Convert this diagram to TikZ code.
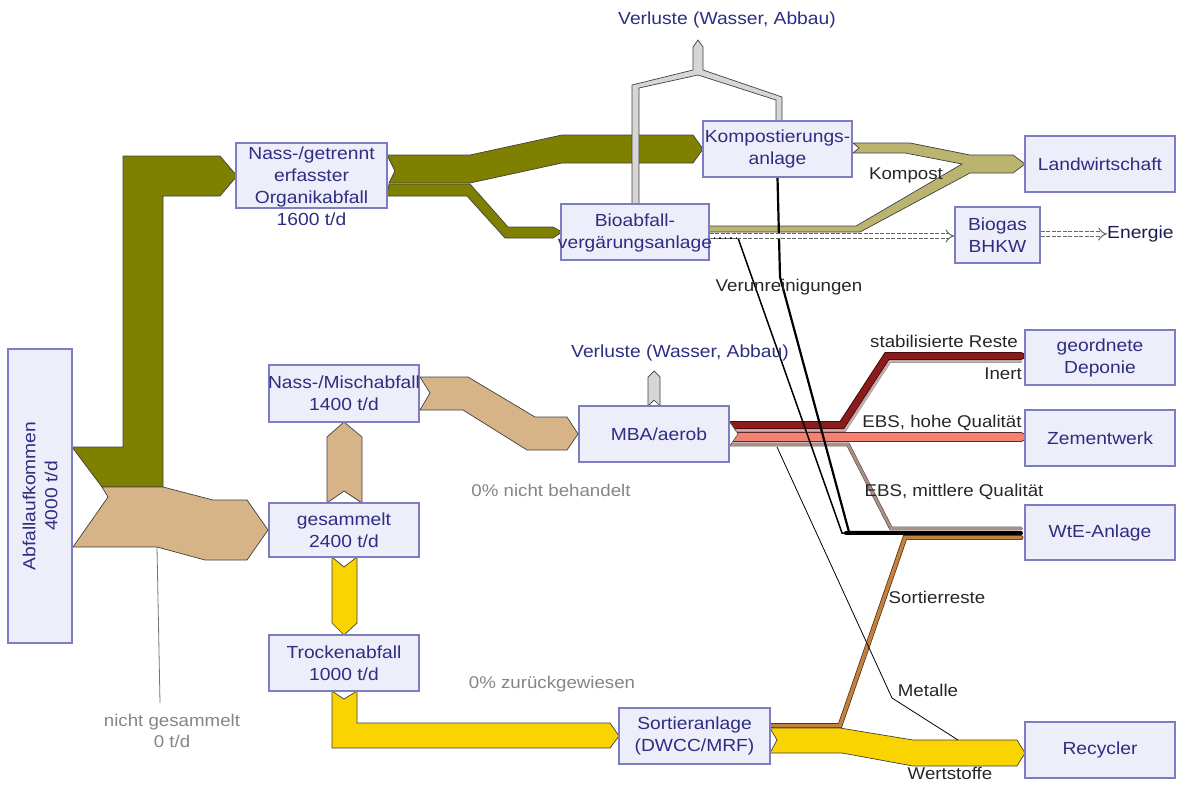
\documentclass[tikz,border=0pt]{standalone}
\usepackage{fontspec}
\setmainfont{Liberation Sans}[FakeStretch=1.1]
\usetikzlibrary{arrows.meta}
\pgfdeclarelayer{bg}
\pgfsetlayers{bg,main}
\definecolor{navy}{RGB}{45,45,130}
\definecolor{boxline}{RGB}{125,125,195}
\definecolor{boxfill}{RGB}{238,238,250}
\definecolor{oliveC}{RGB}{128,128,0}
\definecolor{tanC}{RGB}{214,180,136}
\definecolor{goldC}{RGB}{250,212,0}
\definecolor{khakiC}{RGB}{186,180,112}
\definecolor{lossC}{RGB}{214,214,214}
\definecolor{redC}{RGB}{140,28,28}
\definecolor{redD}{RGB}{70,10,10}
\definecolor{salmonC}{RGB}{243,130,115}
\definecolor{salmonD}{RGB}{95,40,40}
\definecolor{ebsC}{RGB}{170,145,135}
\definecolor{ebsD}{RGB}{90,70,60}
\definecolor{sortC}{RGB}{196,128,62}
\definecolor{sortD}{RGB}{75,42,15}
\definecolor{inertC}{RGB}{210,175,175}
\begin{document}
\begin{tikzpicture}[x=1pt,y=-1pt,
  box/.style={draw=boxline, fill=boxfill, line width=1.4pt, inner sep=0pt},
  lbl/.style={font=\fontsize{17.5}{22}\selectfont, text=navy, align=center, inner sep=0pt},
  flab/.style={font=\fontsize{17}{21}\selectfont, text=black!85, align=center, inner sep=0pt},
  glab/.style={flab, text=black!48},
  band/.style={draw=black!75, line width=0.7pt, line join=miter},
  strip/.style={line cap=round, line join=miter},
  dblarrow/.style={draw=black!60, double=white, double distance=3.6pt, line width=1pt, dash pattern=on 4pt off 1.5pt, -{Implies}}]
\useasboundingbox (0,0) rectangle (1201,784);

% ---------- boxes ----------
\node[box,minimum width=64pt,minimum height=294pt,label={[lbl,rotate=90]center:{Abfallaufkommen\\4000 t/d}}] (abf) at (40,496) {};
\node[box,minimum width=151pt,minimum height=65pt,label={[lbl,yshift=-11pt]center:{Nass-/getrennt\\erfasster\\Organikabfall\\1600 t/d}}] (nge) at (311.5,175.5) {};
\node[box,minimum width=150pt,minimum height=57pt,label={[lbl]center:{Nass-/Mischabfall\\1400 t/d}}] (nmi) at (344,393.5) {};
\node[box,minimum width=150pt,minimum height=54pt,label={[lbl]center:{gesammelt\\2400 t/d}}] (ges) at (344,530) {};
\node[box,minimum width=150pt,minimum height=56pt,label={[lbl]center:{Trockenabfall\\1000 t/d}}] (tro) at (344,663) {};
\node[box,minimum width=149pt,minimum height=56pt,label={[lbl]center:{Kompostierungs-\\anlage}}] (kom) at (777.5,149) {};
\node[box,minimum width=148pt,minimum height=56pt,label={[lbl,yshift=-1pt]center:{Bioabfall-\\vergärungsanlage}}] (bio) at (635,232) {};
\node[box,minimum width=150pt,minimum height=56pt,label={[lbl]center:{Landwirtschaft}}] (lan) at (1100,164) {};
\node[box,minimum width=85pt,minimum height=56pt,label={[lbl]center:{Biogas\\BHKW}}] (bhk) at (997.5,235) {};
\node[box,minimum width=150pt,minimum height=56pt,label={[lbl,xshift=5pt]center:{MBA/aerob}}] (mba) at (654,434) {};
\node[box,minimum width=150pt,minimum height=55pt,label={[lbl]center:{geordnete\\Deponie}}] (dep) at (1100,357.5) {};
\node[box,minimum width=150pt,minimum height=56pt,label={[lbl]center:{Zementwerk}}] (zem) at (1100,438) {};
\node[box,minimum width=150pt,minimum height=55pt,label={[lbl]center:{WtE-Anlage}}] (wte) at (1100,532.5) {};
\node[box,minimum width=150pt,minimum height=56pt,label={[lbl]center:{Recycler}}] (rec) at (1100,750) {};
\node[box,minimum width=151pt,minimum height=56pt,label={[lbl]center:{Sortieranlage\\(DWCC/MRF)}}] (sor) at (694.5,736) {};

% ---------- free labels ----------
\node[lbl] (v1) at (727,20) {Verluste (Wasser, Abbau)};
\node[lbl] (v2) at (680,353) {Verluste (Wasser, Abbau)};
\node[lbl,anchor=west,text=navy!60!black] (ene) at (1107,234) {Energie};
\node[flab] (lkom) at (906,175) {Kompost};
\node[flab] (lver) at (789,287) {Verunreinigungen};
\node[flab] (lsta) at (944,341) {stabilisierte Reste};
\node[flab] (line) at (1003,374) {Inert};
\node[flab] (lebh) at (942,423) {EBS, hohe Qualität};
\node[flab] (lebm) at (954,492) {EBS, mittlere Qualität};
\node[flab] (lsrt) at (937,597) {Sortierreste};
\node[flab] (lmet) at (928,690) {Metalle};
\node[flab] (lwer) at (950,773) {Wertstoffe};
\node[glab] (lnb) at (551,490) {0\% nicht behandelt};
\node[glab] (lzg) at (552,684) {0\% zurückgewiesen};
\node[glab] (lng) at (172,731) {nicht gesammelt\\0 t/d};

% ---------- arrows on top ----------
\draw[dblarrow] ([yshift=-4pt]bio.east) -- ([yshift=-1pt]bhk.west);
\draw[dblarrow] ([yshift=1pt]bhk.east) -- (ene.west);

% ---------- flows ----------
\begin{pgfonlayer}{bg}
\filldraw[band,fill=oliveC] (72,447) -- (123,447) -- (123,156) -- (220,156) -- (237,176) -- (220,196) -- (163,196) -- (163,487) -- (102,487) -- cycle;
\filldraw[band,fill=tanC] (102,487) -- (163,487) -- (213,500) -- (247,500) -- (268,530) -- (247,560) -- (205,560) -- (157,547) -- (73,547) -- (108,497) -- cycle;
\draw[black!55,line width=0.8pt] (157,547) -- (160,703);
\filldraw[band,fill=tanC] (327,503) -- (327,437) -- (344,422) -- (362,437) -- (362,503) -- (344,491) -- cycle;
\filldraw[band,fill=tanC] (420,377) -- (468,377) -- (535,417) -- (567,417) -- (578,434) -- (567,450) -- (527,450) -- (463,410) -- (420,410) -- (430,393) -- cycle;
\filldraw[band,fill=goldC] (332,557) -- (344,567) -- (357,557) -- (357,623) -- (344,635) -- (332,623) -- cycle;
\filldraw[band,fill=goldC] (332,691) -- (344,699) -- (357,691) -- (357,723) -- (610,723) -- (619,736) -- (610,748) -- (332,748) -- cycle;
\filldraw[band,fill=oliveC] (387,155) -- (470,155) -- (562,135) -- (693,135) -- (703,149) -- (693,163) -- (562,163) -- (470,183) -- (389,183) -- (395,171) -- cycle;
\filldraw[band,fill=oliveC] (389,184) -- (470,184) -- (508,227) -- (553,227) -- (562,232) -- (553,238) -- (505,238) -- (467,196) -- (387,196) -- cycle;
\filldraw[band,fill=lossC] (632,204) -- (632,85) -- (693,70) -- (693,47) -- (698,40) -- (703,47) -- (703,70) -- (782,97) -- (782,121) -- (776,121) -- (776,100) -- (698,75) -- (639,88) -- (639,204) -- cycle;
\filldraw[band,fill=lossC] (648,406) -- (648,377) -- (654,371) -- (660,377) -- (660,406) -- (654,400) -- cycle;
\filldraw[band,fill=khakiC] (853,143) -- (910,143) -- (970,155) -- (1013,155) -- (1025,164) -- (1013,173) -- (970,173) -- (860,232) -- (709,232) -- (709,226) -- (856,226) -- (962,164) -- (905,153) -- (853,153) -- (859,148) -- cycle;
% MBA outputs
\draw[strip,line width=1pt,draw=redD,double=redC,double distance=6pt] (725,425) -- (842,425) -- (887,356) -- (1021,356);
\draw[strip,line width=0.5pt,draw=black!45,double=inertC,double distance=1.5pt] (725,430.5) -- (845,430.5) -- (890,361.5) -- (1021,361.5);
\draw[strip,line width=1pt,draw=salmonD,double=salmonC,double distance=8pt] (725,437) -- (1021,437);
\draw[strip,line width=0.6pt,draw=ebsD,double=ebsC,double distance=2.6pt] (725,444.5) -- (848,444.5) -- (891,528.5) -- (1021,528.5);
\filldraw[fill=white,draw=black!70,line width=0.6pt] (729,421) -- (738,434) -- (729,447);
% sorting outputs
\filldraw[band,fill=goldC] (770,728) -- (840,728) -- (913,740) -- (1017,740) -- (1025,753) -- (1017,766) -- (913,766) -- (842,753) -- (770,753) -- (777,740) -- cycle;
\draw[strip,line width=0.7pt,draw=sortD,double=sortC,double distance=3.5pt] (766,725.5) -- (840,725.5) -- (905,537.5) -- (1021,537.5);
% impurities and metals
\draw[line width=1.5pt,line join=miter] (709,238) -- (738,238) -- (842,533) -- (900,533);
\draw[line width=2.2pt,line join=miter] (kom.south) -- (780,277) -- (849,532) -- (900,532);
\draw[line width=4pt,line cap=round] (846,533) -- (1021,533);
\draw[line width=0.8pt] (777,447) -- (892,698) -- (958,740);
\end{pgfonlayer}
\end{tikzpicture}
\end{document}
